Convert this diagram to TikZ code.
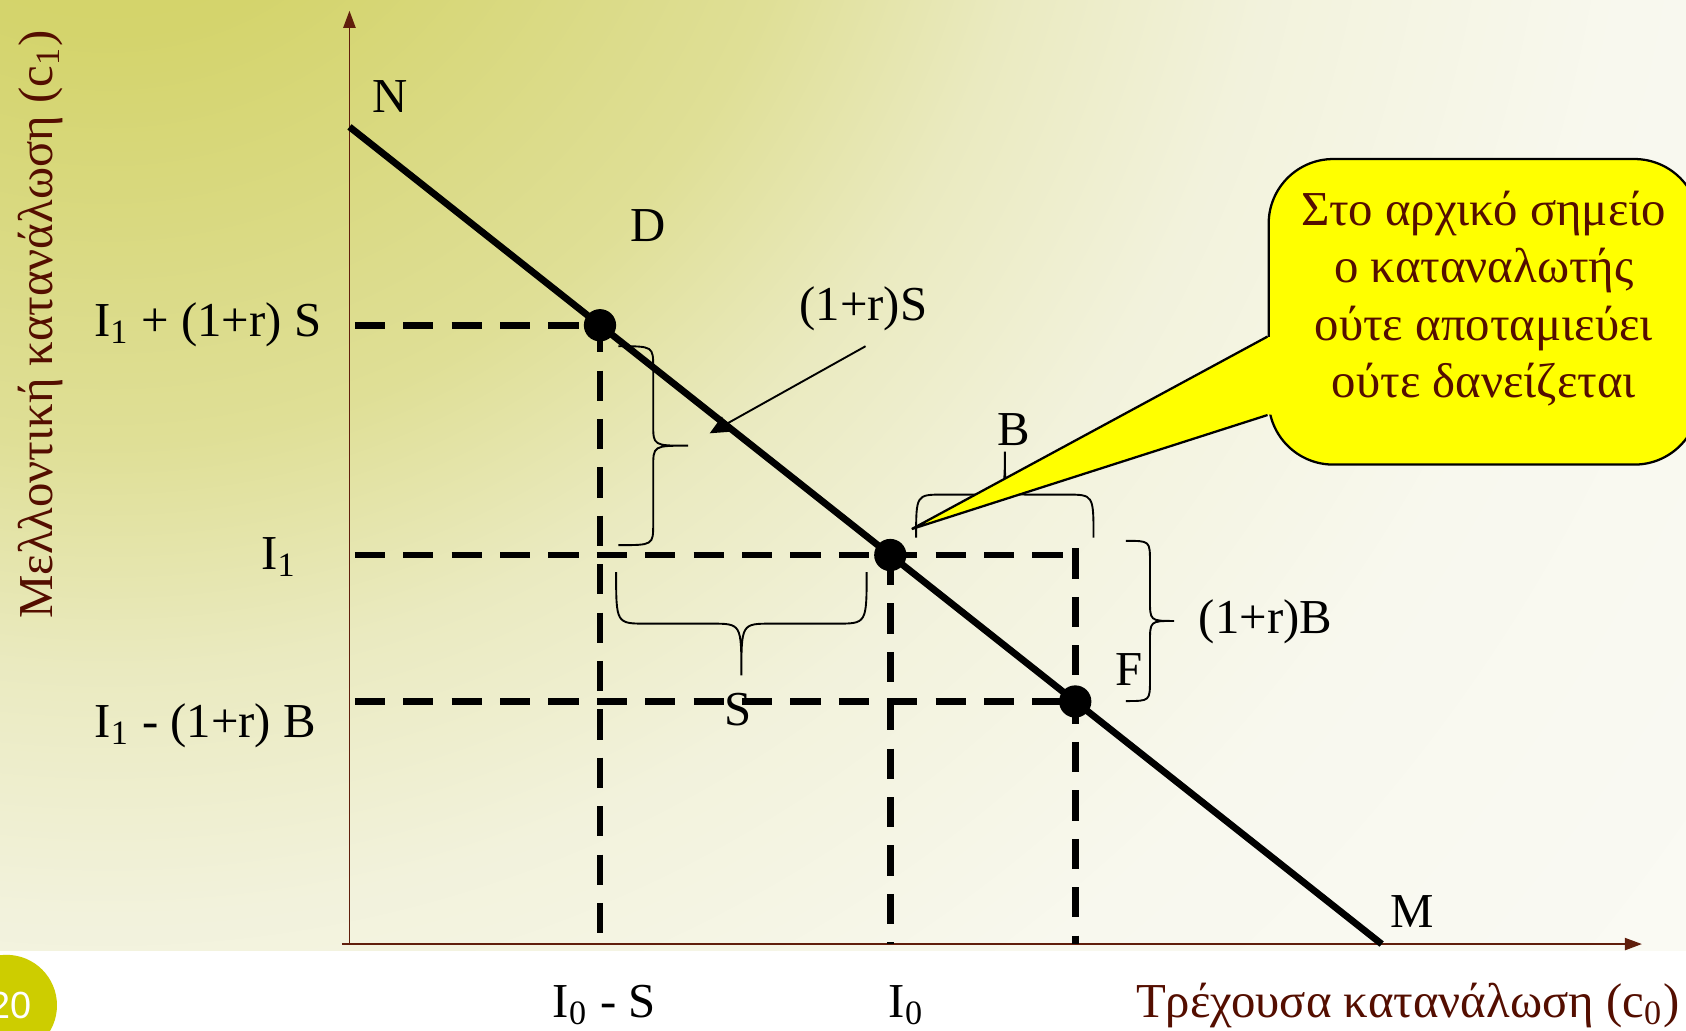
\documentclass[tikz,border=0pt]{standalone}
\usepackage{fontspec}
\setmainfont{Liberation Serif}
\newfontfamily\pagenumfont{Liberation Sans}
\usepackage{xcolor}
\definecolor{axisbrown}{RGB}{96,30,12}
\definecolor{textbrown}{RGB}{84,14,0}
\definecolor{bgA}{RGB}{208,208,98}
\definecolor{bgB}{RGB}{212,212,108}
\definecolor{bgC}{RGB}{220,220,140}
\definecolor{bgD}{RGB}{223,223,150}
\definecolor{bgE}{RGB}{234,234,192}
\definecolor{bgF}{RGB}{242,242,220}
\definecolor{bgG}{RGB}{248,248,238}
\definecolor{bgH}{RGB}{250,250,244}
\definecolor{noteyellow}{RGB}{255,255,0}
\definecolor{pagedot}{RGB}{205,205,0}
\usetikzlibrary{arrows.meta,positioning,calc}
% the middle 25bp of the shading fill the shaded path
\pgfdeclareradialshading{slidebg}{\pgfpoint{0bp}{0bp}}{%
  color(0bp)=(bgA); color(3.7bp)=(bgB); color(7.4bp)=(bgC); color(8.7bp)=(bgD);
  color(11.5bp)=(bgE); color(14.5bp)=(bgF); color(18.8bp)=(bgG);
  color(25bp)=(bgH); color(50bp)=(bgH)}
\tikzset{
  lbl/.style={font=\fontsize{12.9}{15}\selectfont, inner sep=1pt},
  axislbl/.style={lbl, text=textbrown},
  axisline/.style={axisbrown, line width=0.5pt, -{Triangle[length=4.5pt,width=3.2pt]}},
  budget/.style={line width=1.8pt},
  guide/.style={line width=1.8pt, dash pattern=on 8pt off 4.8pt},
  dot/.style={circle, fill=black, inner sep=0pt, minimum size=0.3cm},
  bracket/.style={line width=0.5pt},
  note/.style={rectangle, rounded corners=0.6cm, draw=black, line width=0.6pt,
               fill=noteyellow, text=textbrown, align=center,
               font=\fontsize{12.9}{15.2}\selectfont,
               minimum width=4cm, minimum height=2.84cm},
  % brace with tip along x: half length, depth, curl
  pics/vbrace/.style n args={3}{code={
    \draw[bracket] (0,-#1) .. controls (#2,-#1) .. (#2,{-#1+#3}) -- (#2,-#3)
      .. controls (#2,0) .. ({2*#2},0) .. controls (#2,0) .. (#2,#3)
      -- (#2,{#1-#3}) .. controls (#2,#1) .. (0,#1);
  }},
  % brace with tip along y
  pics/hbrace/.style n args={3}{code={
    \draw[bracket] (-#1,0) .. controls (-#1,#2) .. ({-#1+#3},#2) -- (-#3,#2)
      .. controls (0,#2) .. (0,{2*#2}) .. controls (0,#2) .. (#3,#2)
      -- ({#1-#3},#2) .. controls (#1,#2) .. (#1,0);
  }},
}

\begin{document}
\begin{tikzpicture}[x=0.01cm, y=-0.01cm]
  \useasboundingbox (0,0) rectangle (1568,958);
  % Slide background
  \fill[white] (0,0) rectangle (1568,958);
  \begin{scope}
    \clip (0,0) rectangle (1568,884);
    \fill[bgH] (0,0) rectangle (1568,884);
    \shade[shading=slidebg] (100,-250) circle[radius=1900];
  \end{scope}
  % Page number
  \fill[pagedot] (6,935) circle[radius=47];
  \node[font=\pagenumfont\fontsize{10}{12}\selectfont, text=white] (pagenum) at (10,935) {20};

  % Axes
  \coordinate (O) at (325,878);
  \coordinate (ytop) at (325,10);
  \coordinate (xleft) at (318,878);
  \coordinate (xend) at (1527,878);
  \draw[axisline] (O) -- (ytop);
  \draw[axisline] (xleft) -- (xend);
  \node[axislbl, rotate=90] (ylabel) at (38,302) {Μελλοντική κατανάλωση (c\textsubscript{1})};
  \node[axislbl, anchor=base east] (xlabel) at (1566,946) {Τρέχουσα κατανάλωση (c\textsubscript{0})};

  % Budget line
  \coordinate (N) at (325,118);
  \coordinate (M) at (1285,878);
  \draw[budget] (N) -- (M);
  \node[lbl] (lblN) at (363,90) {N};
  \node[lbl] (lblM) at (1313,848) {M};

  % Points on the line
  \coordinate (ptD) at (558,302.5);
  \coordinate (ptE) at (828,516.2);
  \coordinate (ptF) at (1000,652.4);
  \coordinate (yD) at (330,302.5);
  \coordinate (yE) at (330,516.2);
  \coordinate (yF) at (330,652.4);
  \coordinate (cornerB) at (1003,516.2);

  % Dashed guides
  \draw[guide] (yD) -- (ptD) -- (ptD |- O);
  \draw[guide] (yE) -- (cornerB);
  \draw[guide] (ptE) -- (ptE |- O);
  \draw[guide] (yF) -- (ptF);
  \draw[guide] (1000,510) -- (ptF) -- (ptF |- O);

  \node[dot] (dotD) at (ptD) {};
  \node[dot] (dotE) at (ptE) {};
  \node[dot] (dotF) at (ptF) {};
  \node[lbl] (lblD) at (603,210) {D};
  \node[lbl] (lblF) at (1050,623) {F};

  % Axis values
  \node[lbl, anchor=base east] (valD) at (303,313) {I\textsubscript{1} + (1+r) S};
  \node[lbl, anchor=base east] (valE) at (280,530) {I\textsubscript{1}};
  \node[lbl, anchor=base east] (valF) at (298,686) {I\textsubscript{1} - (1+r) B};
  \node[lbl, anchor=base] (valS) at (562,946) {I\textsubscript{0} - S};
  \node[lbl, anchor=base] (valI) at (843,946) {I\textsubscript{0}};

  % Braces
  \pic (braceRS) at (575,414.5) {vbrace={92.5}{32.5}{20}};
  \pic (braceS) at (689.5,532) {hbrace={116.5}{48}{28}};
  \pic (braceB) at (934.5,500) {hbrace={82.5}{-40}{25}};
  \pic (braceRB) at (1047,577.5) {vbrace={74.5}{22.5}{20}};
  \node[lbl] (lblRS) at (803,287) {(1+r)S};
  \node[lbl] (lblS) at (686,660) {S};
  \node[lbl] (lblB) at (943,400) {B};
  \node[lbl] (lblRB) at (1177,578) {(1+r)B};
  \coordinate (arrS) at (805,322);
  \coordinate (arrE) at (660,403);
  \draw[line width=0.5pt, -{Triangle[length=5pt,width=4.5pt]}] (arrS) -- (arrE);

  % Callout
  \coordinate (tip) at (848,492);
  \node[note] (note) at (1380,290) {Στο αρχικό σημείο\\ο καταναλωτής\\ούτε αποταμιεύει\\ούτε δανείζεται\vrule width 0pt height 0pt depth 0.33cm};
  \fill[noteyellow] (tip) -- ($(note.west)+(0,23.5)$) -- ($(note.west)+(4,23.5)$)
    -- ($(note.west)+(4,95.5)$) -- ($(note.west)+(0,95.5)$) -- cycle;
  \draw[line width=0.6pt] ($(note.west)+(0,23)$) -- (tip) -- ($(note.west)+(0,96)$);
\end{tikzpicture}
\end{document}
